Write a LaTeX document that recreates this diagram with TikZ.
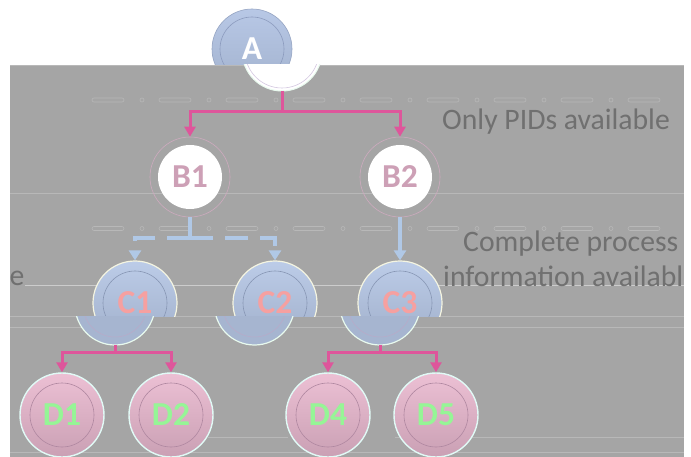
\documentclass[tikz,border=0pt]{standalone}
\usepackage{fontspec}
\setmainfont{Carlito}
\usetikzlibrary{arrows.meta}
\definecolor{bggray}{RGB}{165,165,165}
\definecolor{linegray}{RGB}{184,184,184}
\definecolor{lightline}{RGB}{204,204,204}
\definecolor{pinkline}{RGB}{222,86,155}
\definecolor{blueline}{RGB}{176,200,230}
\definecolor{txtgray}{RGB}{112,112,112}
\definecolor{blabel}{RGB}{205,160,182}
\definecolor{clabel}{RGB}{246,160,160}
\definecolor{dlabel}{RGB}{150,245,150}
\definecolor{atop}{RGB}{184,200,230}
\definecolor{abot}{RGB}{162,178,206}
\definecolor{aring}{RGB}{150,165,195}
\definecolor{ainner}{RGB}{140,155,190}
\definecolor{bring}{RGB}{205,170,190}
\definecolor{ctop}{RGB}{188,204,232}
\definecolor{cbot}{RGB}{160,175,202}
\definecolor{cmid}{RGB}{166,181,208}
\definecolor{crim}{RGB}{245,245,225}
\definecolor{crimlow}{RGB}{232,250,238}
\definecolor{cinner}{RGB}{135,150,180}
\definecolor{cinnerlow}{RGB}{185,170,200}
\definecolor{dtop}{RGB}{236,192,212}
\definecolor{dbot}{RGB}{202,160,180}
\definecolor{drim}{RGB}{225,250,246}
\definecolor{dinner}{RGB}{175,135,160}
\definecolor{alowring}{RGB}{212,200,225}
\tikzset{
  lbl/.style={font=\bfseries\fontsize{33.5}{33.5}\selectfont},
  note/.style={text=txtgray, font=\fontsize{29.7}{34}\selectfont, inner sep=0pt},
  pinkseg/.style={draw=pinkline, line width=3pt},
  pinkarrow/.style={draw=pinkline, line width=3pt, -{Triangle[length=10pt,width=11pt]}},
  bluedash/.style={draw=blueline, line width=4pt, dash pattern=on 23pt off 12pt},
  bluearrow/.style={draw=blueline, line width=4pt, -{Triangle[length=10pt,width=12pt]}},
  anode/.style={circle, minimum size=80pt, inner sep=0pt, top color=atop, bottom color=abot,
    draw=aring, line width=0.6pt, text=white, lbl,
    path picture={\draw[ainner, line width=0.6pt] (path picture bounding box.center) circle (32pt);}},
  bnode/.style={circle, minimum size=80pt, inner sep=0pt, draw=bring, line width=0.6pt,
    text=blabel, lbl,
    path picture={\fill[white] (path picture bounding box.center) circle (32pt);}},
  cnode/.style={circle, minimum size=84pt, inner sep=0pt, top color=ctop, bottom color=cbot,
    draw=crim, line width=1.2pt, text=clabel, lbl,
    path picture={\draw[cinner, line width=0.6pt] (path picture bounding box.center) circle (32pt);}},
  clow/.style={fill=cmid, draw=crimlow, line width=1.2pt},
  dnode/.style={circle, minimum size=84pt, inner sep=0pt, top color=dtop, bottom color=dbot,
    draw=drim, line width=1.4pt, text=dlabel, lbl,
    path picture={\draw[dinner, line width=0.6pt] (path picture bounding box.center) circle (32pt);}},
  pill/.style={draw=linegray, line width=0.6pt, rounded corners=2pt},
}
\begin{document}
\begin{tikzpicture}[x=1pt,y=-1pt]
\useasboundingbox (0,0) rectangle (691,457);
\fill[white] (0,0) rectangle (691,457);
\fill[bggray] (10,65) rectangle (684,457);
% faint background lines
\draw[linegray, line width=0.8pt] (10,65) -- (684,65);
\draw[linegray, line width=0.6pt] (10,193) -- (684,193);
\draw[lightline, line width=1.6pt] (25,285.5) -- (684,285.5);
\draw[linegray, line width=0.6pt] (10,316.7) -- (684,316.7);
\draw[linegray, line width=0.6pt] (10,327) -- (684,327);
\draw[linegray, line width=0.6pt] (208,437) -- (288,437);
\draw[linegray, line width=0.6pt] (395,437) -- (684,437);
\draw[linegray, line width=0.8pt] (10,452) -- (684,452);
\foreach \k in {0,...,8}{
  \draw[pill] (92+67*\k,98) rectangle (124+67*\k,102);
  \draw[pill] (92+67*\k,226.5) rectangle (124+67*\k,230.5);
}
\foreach \k in {0,...,7}{
  \draw[linegray, line width=0.6pt] (142+67*\k,100) circle (2pt);
  \draw[linegray, line width=0.6pt] (142+67*\k,228.5) circle (2pt);
}
% A: upper part above the band, shifted lower half
\begin{scope}
  \clip (0,0) rectangle (691,65);
  \node[anode] (A) at (252,49) {A};
\end{scope}
\begin{scope}
  \clip (0,65) rectangle (691,457);
  \fill[white, draw=crimlow, line width=1pt] (282,51) circle (40pt);
  \draw[alowring, line width=0.6pt] (282,51) circle (37pt);
\end{scope}
\coordinate (Alow) at (282,91);
% B nodes
\node[bnode] (B1) at (190,177) {B1};
\node[bnode] (B2) at (400,177) {B2};
% C nodes: upper parts and shifted lower halves
\begin{scope}
  \clip (0,0) rectangle (691,316.7);
  \node[cnode] (C1) at (135,303) {C1};
  \node[cnode] (C2) at (275,303) {C2};
  \node[cnode] (C3) at (400,303) {C3};
\end{scope}
\begin{scope}
  \clip (0,316.7) rectangle (691,457);
  \foreach \cx in {115,254.5,380}{
    \draw[clow] (\cx,305) circle (40pt);
    \draw[cinnerlow, line width=0.5pt] (\cx,305) circle (32pt);
  }
\end{scope}
\coordinate (C1low) at (115,345);
\coordinate (C3low) at (380,345);
% D nodes
\node[dnode] (D1) at (62,415) {D1};
\node[dnode] (D2) at (171,415) {D2};
\node[dnode] (D4) at (328,415) {D4};
\node[dnode] (D5) at (436,415) {D5};
% connectors A -> B
\coordinate (jA) at (282,112);
\draw[pinkseg] (Alow) -- (jA);
\draw[pinkarrow] (jA) -| (B1);
\draw[pinkarrow] (jA) -| (B2);
% B -> C
\coordinate (jB) at (190,238);
\draw[bluedash] (B1) -- (jB);
\draw[bluedash, -{Triangle[length=10pt,width=12pt]}] (jB) -| (C1);
\draw[bluedash, -{Triangle[length=10pt,width=12pt]}] (jB) -| (C2);
\draw[bluearrow] (B2) -- (C3);
% C -> D
\coordinate (jC1) at (115,352);
\coordinate (jC3) at (380,352);
\draw[pinkseg] (C1low) -- (jC1);
\draw[pinkarrow] (jC1) -| (D1);
\draw[pinkarrow] (jC1) -| (D2);
\draw[pinkseg] (C3low) -- (jC3);
\draw[pinkarrow] (jC3) -| (D4);
\draw[pinkarrow] (jC3) -| (D5);
% notes
\node[note, anchor=base west] (n1) at (442,130) {Only PIDs available};
\node[note, anchor=base west] (n2) at (463,251.5) {Complete process};
\node[note, anchor=base west] (n3) at (443,286.5) {information availabl};
\node[note, anchor=base west] (n4) at (9.5,286) {e};
\end{tikzpicture}
\end{document}
